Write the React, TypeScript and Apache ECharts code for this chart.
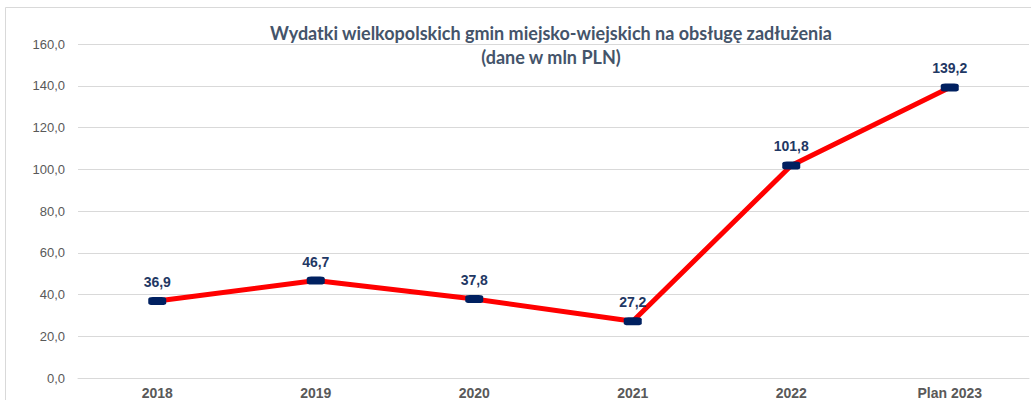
import React, { useEffect, useRef } from "react";
import * as echarts from "echarts";

const categories = ["2018", "2019", "2020", "2021", "2022", "Plan 2023"];
const values = [36.9, 46.7, 37.8, 27.2, 101.8, 139.2];
const titleLines = [
  "Wydatki wielkopolskich gmin miejsko-wiejskich na obsługę zadłużenia",
  "(dane w mln PLN)",
];

const fmt = (v: number) => v.toFixed(1).replace(".", ",");

export default function App() {
  const ref = useRef<HTMLDivElement>(null);
  useEffect(() => {
    if (!ref.current) return;
    const chart = echarts.init(ref.current, null, { renderer: "svg" });
    chart.setOption({
      animation: false,
      backgroundColor: "#ffffff",
      grid: { left: 78, right: 2, top: 44, bottom: 22 },
      graphic: [
        {
          type: "rect",
          shape: { x: 5.5, y: 7.5, width: 1100, height: 500 },
          style: { fill: "none", stroke: "#d9d9d9", lineWidth: 1 },
          z: -10,
          silent: true,
        },
        {
          type: "text",
          x: 551,
          y: 33,
          style: {
            text: titleLines[0],
            align: "center",
            verticalAlign: "middle",
            fill: "#44546a",
            font: "bold 18px Lato, 'Open Sans', sans-serif",
          },
          z: 10,
        },
        {
          type: "text",
          x: 551,
          y: 57,
          style: {
            text: titleLines[1],
            align: "center",
            verticalAlign: "middle",
            fill: "#44546a",
            font: "bold 18px Lato, 'Open Sans', sans-serif",
          },
          z: 10,
        },
      ],
      xAxis: {
        type: "category",
        data: categories,
        boundaryGap: true,
        axisLine: { show: true, lineStyle: { color: "#d9d9d9", width: 1 } },
        axisTick: { show: false },
        axisLabel: {
          color: "#595959",
          fontFamily: "'Liberation Sans', Arial, sans-serif",
          fontWeight: "bold",
          fontSize: 14,
          margin: 8,
        },
      },
      yAxis: {
        type: "value",
        min: 0,
        max: 160,
        interval: 20,
        axisLine: { show: false },
        axisTick: { show: false },
        splitLine: { lineStyle: { color: "#d9d9d9", width: 1 } },
        axisLabel: {
          color: "#595959",
          fontFamily: "'Liberation Sans', Arial, sans-serif",
          fontSize: 13,
          margin: 13,
          formatter: (v: number) => fmt(v),
        },
      },
      series: [
        {
          type: "line",
          data: values,
          lineStyle: { color: "#ff0000", width: 5 },
          itemStyle: { color: "#002060" },
          symbol: "roundRect",
          symbolSize: [18, 8],
          showAllSymbol: true,
          label: {
            show: true,
            position: "top",
            distance: 8,
            color: "#1f3864",
            fontFamily: "'Liberation Sans', Arial, sans-serif",
            fontWeight: "bold",
            fontSize: 14,
            formatter: (p: any) => fmt(p.value),
          },
        },
      ],
    });
    return () => chart.dispose();
  }, []);
  return (
    <div
      ref={ref}
      style={{ position: "absolute", left: 0, top: 0, width: 1031, height: 400 }}
    />
  );
}
